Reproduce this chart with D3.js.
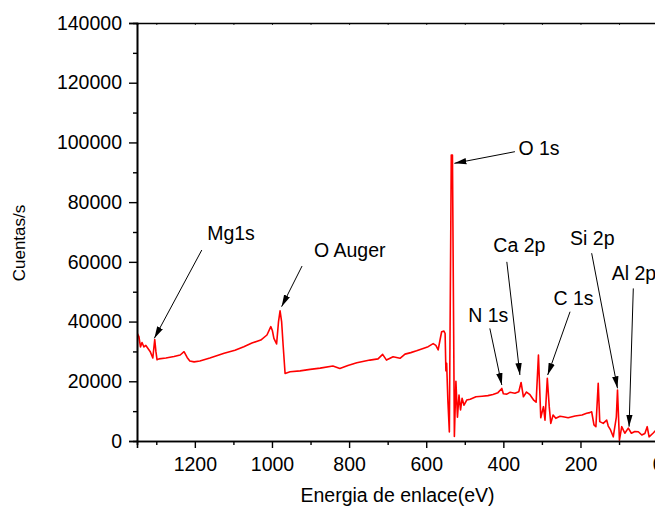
<!DOCTYPE html>
<html><head><meta charset="utf-8">
<script src="https://cdn.jsdelivr.net/npm/d3@7"></script>
<style>
body{margin:0;background:#fff}
svg{display:block}
text{font-family:"Liberation Sans",Arial,sans-serif;fill:#000}
</style>
</head><body><svg id="c" width="655" height="508"></svg>
<script>
// Binding energy (eV) and intensity (counts/s)
const energy = [1350,1349,1345,1341,1337,1332,1327,1316,1309,1304,1301,1298,1293,1275,1254,1238,1228,1220,1213,1202,1187,1161,1124,1096,1073,1052,1029,1013,1003,999,995,988,983,979,975,971,966,953,927,901,875,842,824,803,780,746,725,713,703,686,668,655,640,625,608,595,582,575,569,564,560,554,551,549,547,544,540,535,532,527,523,519,515,511,507,502,495,486,471,455,440,427,414,404,400,391,383,370,360,354,348,340,331,322,315,309,303,296,292,286,281,277,271,264,253,245,232,214,196,184,176,171,165,160,154,150,141,132,128,122,115,107,104,99,93,85,76,68,59,50,41,33,27,22,12,5];
const counts = [20000,36000,35000,31500,33000,31500,32000,30000,27800,34000,30000,27200,27500,27800,28300,28800,29900,28000,26800,26500,26800,27800,29400,30400,31600,32800,33800,35500,38300,37000,34400,32500,40000,43600,40000,32000,22600,23200,23500,24000,24400,25100,24300,25300,26200,27100,27500,29000,27100,28200,27700,29100,29600,30200,31000,31600,32600,32000,30500,34000,36600,36800,36000,23500,26000,14000,3000,95800,95800,1500,20000,8000,15400,10400,14300,12000,13700,14000,14800,15000,15200,15600,16200,17600,15800,15700,16300,16000,16500,19600,14800,16400,15500,13800,13000,28800,7800,11500,7000,21000,11500,5900,8700,7600,8300,8100,7800,8400,8700,9300,9500,9800,5400,4800,19300,6500,5900,7000,5000,3700,1400,8000,17100,300,4800,2600,4300,2600,3200,3100,2000,2500,4800,1400,2600,3500];

const xMajor = [1200,1000,800,600,400,200,0];
const xMinor = [1300,1100,900,700,500,300,100];
const yMajor = [0,20000,40000,60000,80000,100000,120000,140000];
const yMinor = [10000,30000,50000,70000,90000,110000,130000];

// Peak annotations: label, arrow tip (E, counts), arrow tail (E, counts), label anchor (E, counts)
const peakLabels = ["Mg1s","O Auger","O 1s","N 1s","Ca 2p","C 1s","Si 2p","Al 2p"];
const tipE  = [1305,975,527,404,357,285,104,74];
const tipV  = [34400,45000,93000,18750,22100,22100,17650,4800];
const tailE = [1182,922,370,435,391,227,171,63];
const tailV = [63960,58600,96900,37700,60000,43300,62900,51100];
const textE = [1168,891,361,491,426,270,227,119];
const textV = [67300,61600,95800,39950,63400,45500,65600,53900];

const svg = d3.select("#c");
const x = d3.scaleLinear().domain([1350,0]).range([137,657.6]);
const y = d3.scaleLinear().domain([0,140000]).range([441,23]);
const FS = "19.5px";

// arrow marker
svg.append("defs").append("marker")
  .attr("id","ah").attr("markerUnits","userSpaceOnUse")
  .attr("viewBox","0 -4 12 8").attr("refX",12).attr("refY",0)
  .attr("markerWidth",12).attr("markerHeight",8).attr("orient","auto")
  .append("path").attr("d","M0,-3.2L12,0L0,3.2Z").attr("fill","#000");

// clip
svg.append("clipPath").attr("id","clip").append("rect")
  .attr("x",137).attr("y",23).attr("width",525).attr("height",418);

// data line
svg.append("path")
  .datum(energy.map((e,i)=>[e,counts[i]]))
  .attr("clip-path","url(#clip)")
  .attr("fill","none").attr("stroke","#ff0000").attr("stroke-width",1.6)
  .attr("stroke-linejoin","round")
  .attr("d", d3.line().x(d=>x(d[0])).y(d=>y(d[1])));

function styleAxis(g){
  g.selectAll("path").attr("stroke","#000").attr("stroke-width",1.6);
  g.selectAll("line").attr("stroke","#000").attr("stroke-width",1.4);
  g.attr("font-family",'"Liberation Sans",Arial,sans-serif').attr("font-size",FS);
}

// left axis
svg.append("g").attr("transform","translate(137,0)")
  .call(d3.axisLeft(y).tickValues(yMajor).tickSize(8).tickPadding(7).tickFormat(d3.format("d")))
  .call(styleAxis);
svg.append("g").attr("transform","translate(137,0)")
  .call(d3.axisLeft(y).tickValues(yMinor).tickSize(4).tickFormat(""))
  .call(styleAxis);

// bottom axis
svg.append("g").attr("transform","translate(0,441)")
  .call(d3.axisBottom(x).tickValues(xMajor).tickSize(7).tickPadding(9).tickFormat(d3.format("d")))
  .call(styleAxis);
svg.append("g").attr("transform","translate(0,441)")
  .call(d3.axisBottom(x).tickValues(xMinor).tickSize(4).tickFormat(""))
  .call(styleAxis);

// top axis (frame)
svg.append("g").attr("transform","translate(0,23)")
  .call(d3.axisTop(x).tickValues(xMajor.concat(xMinor)).tickSize(-2).tickFormat(""))
  .call(styleAxis)
  .call(g=>g.selectAll("line").attr("stroke-width",0.8));

// axis titles
svg.append("text").attr("x",397.5).attr("y",502).attr("text-anchor","middle")
  .attr("font-size",FS).text("Energia de enlace(eV)");
svg.append("text").attr("transform","translate(25,243) rotate(-90)")
  .attr("text-anchor","middle").attr("font-size","17px").text("Cuentas/s");

// annotations
const ann = svg.append("g");
peakLabels.forEach((lab,i)=>{
  ann.append("line")
    .attr("x1",x(tailE[i])).attr("y1",y(tailV[i]))
    .attr("x2",x(tipE[i])).attr("y2",y(tipV[i]))
    .attr("stroke","#000").attr("stroke-width",1)
    .attr("marker-end","url(#ah)");
  ann.append("text").attr("x",x(textE[i])).attr("y",y(textV[i]))
    .attr("font-size",FS).text(lab);
});
</script>
</body></html>
